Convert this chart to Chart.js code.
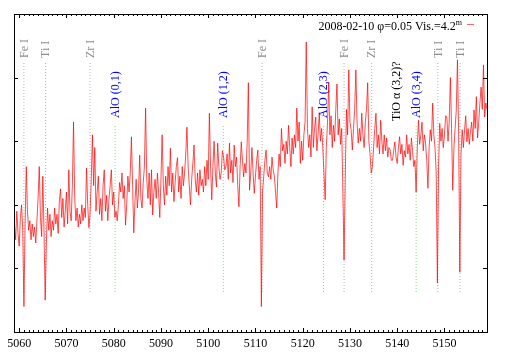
<!DOCTYPE html>
<html>
<head>
<meta charset="utf-8">
<script src="https://cdn.jsdelivr.net/npm/chart.js@4"></script>
<style>
html,body{margin:0;padding:0;background:#fff;}
canvas{display:block;}
</style>
</head>
<body>
<canvas id="c" width="509" height="356"></canvas>
<script>
// ---- data ----
const WL_START = 5059.0;   // first sample wavelength (Å)
const WL_STEP = 0.25;      // sampling step (Å)
const flux = [
 1.7,1.45,1.9,1.55,1.35,1.8,2.0,1.6,0.4,1.7,2.6,1.9,1.6,1.75,1.45,1.7,1.5,1.65,1.4,1.75,
 2.1,2.6,1.8,1.5,2.45,1.6,0.5,1.4,1.95,1.6,1.85,1.5,1.75,1.6,1.95,1.7,1.85,1.55,2.05,2.25,
 1.8,2.1,1.65,1.9,2.2,1.7,2.55,1.9,1.75,2.3,3.3,2.1,1.75,1.95,1.65,1.85,1.7,2.0,1.75,1.95,
 1.8,2.58,2.0,1.64,1.85,2.4,3.1,2.3,2.9,1.9,2.2,2.45,1.85,2.1,1.75,2.3,2.55,1.9,2.15,1.75,
 2.1,2.3,2.55,2.0,2.2,1.8,1.9,1.75,2.0,2.35,2.2,2.5,2.1,2.3,1.68,2.0,2.45,2.2,2.5,3.07,
 2.3,1.56,2.05,2.4,1.95,2.2,2.78,2.1,1.95,2.35,2.6,3.52,2.4,2.1,2.5,2.0,2.55,1.84,2.2,2.4,
 2.1,2.5,2.2,1.8,2.4,3.1,2.3,2.0,2.45,2.15,2.6,2.3,2.89,2.2,2.5,2.05,2.35,2.6,2.74,2.2,
 2.45,2.1,2.6,2.3,2.5,2.8,3.22,2.6,2.3,2.0,2.4,2.65,2.94,2.4,2.2,2.5,2.15,2.55,2.3,2.4,
 2.2,2.6,2.3,2.7,2.4,3.44,2.6,2.08,2.6,3.0,2.5,2.28,2.97,2.6,2.4,2.5,2.85,2.75,2.55,2.6,
 2.8,2.4,2.97,2.5,2.7,2.35,2.94,2.6,2.75,2.3,1.97,2.6,2.99,2.7,2.44,2.65,2.5,3.0,3.92,2.23,
 2.5,2.9,2.5,2.18,2.45,2.7,2.86,2.4,2.6,0.4,2.2,2.45,2.7,2.86,2.5,2.44,2.6,2.4,2.75,2.55,
 2.45,2.2,1.95,2.5,2.8,2.6,3.2,2.85,2.95,2.65,3.0,2.8,3.25,2.9,2.6,3.05,2.8,3.1,2.9,3.52,
 3.0,3.3,2.65,3.0,2.7,3.1,3.3,4.56,3.2,2.9,3.1,2.75,3.54,2.9,3.2,3.38,2.85,3.1,3.45,3.0,
 3.2,2.9,2.5,2.08,2.9,3.3,3.93,3.1,3.4,2.9,3.25,3.0,3.5,3.9,3.1,3.35,2.95,3.2,2.2,1.13,
 2.4,3.5,3.1,4.12,3.3,3.18,2.86,3.2,3.5,4.12,3.3,2.97,3.2,3.0,3.44,3.1,2.9,3.3,3.5,3.92,
 3.0,2.8,2.5,2.6,2.9,3.2,3.44,2.9,3.1,2.8,3.33,3.0,2.8,3.1,2.85,3.05,2.75,2.9,2.86,2.7,
 2.7,2.85,2.99,2.75,2.65,2.9,3.07,2.8,2.95,2.62,2.85,2.75,3.1,2.8,2.95,2.7,3.05,2.85,2.6,2.7,
 2.2,2.9,3.33,2.95,3.1,3.3,2.85,3.1,2.97,2.7,2.26,2.9,3.18,3.0,3.6,3.1,2.9,2.5,0.77,2.6,
 3.28,3.0,3.2,2.9,3.1,3.4,3.38,3.0,3.3,4.0,3.2,2.23,2.9,3.2,3.49,4.28,3.1,0.94,2.8,3.18,
 2.9,3.18,3.4,2.99,3.2,2.95,3.15,3.3,3.0,3.49,3.2,3.7,3.05,3.3,3.6,3.85,3.5,4.2,3.38,3.6,
 3.5
];
const markerWl    = [5061.0, 5065.6, 5075.0, 5080.3, 5103.2, 5111.4, 5124.4, 5128.75, 5134.6, 5139.9, 5144.0, 5148.6, 5153.3];
const markerLabel = ['Fe I','Ti I','Zr I','AlO (0,1)','AlO (1,2)','Fe I','AlO (2,3)','Fe I','Zr I','TiO \u03b1 (3,2)?','AlO (3,4)','Ti I','Ti I'];
const markerKind  = ['atom','atom','atom','AlO','AlO','atom','AlO','atom','atom','TiO','AlO','atom','atom'];
const xTickLabels = [5060,5070,5080,5090,5100,5110,5120,5130,5140,5150];
const yTickValues = [1,2,3,4];
const legendText = '2008-02-10 \u03c6=0.05 Vis.=4.2';
const legendSup = 'm';

// ---- styles ----
const X_MIN = 5058.9, X_MAX = 5159.0, Y_MIN = 0, Y_MAX = 5;
const kindStyle = {
  atom: {line:'#b0b0b0', text:'#8c8c8c', top:4.23, gap:5},
  AlO:  {line:'#77dd77', text:'#0000ff', top:3.24, gap:8},
  TiO:  {line:null,      text:'#000000', top:3.24, gap:5}
};
const LINE_BOTTOM = 0.61;
const SERIF = '"Liberation Serif", "DejaVu Serif", serif';

const datasets = [{
  data: flux.map((v,i)=>({x: WL_START + i*WL_STEP, y: v})),
  borderColor: 'rgba(255,0,0,0.7)',
  borderWidth: 1,
  pointRadius: 0,
  tension: 0,
  order: 0
}];
markerWl.forEach((w,i)=>{
  const st = kindStyle[markerKind[i]];
  if (!st.line) return;
  datasets.push({
    data: [{x:w, y:st.top},{x:w, y:LINE_BOTTOM}],
    borderColor: st.line,
    borderWidth: 1,
    borderDash: [1,2],
    pointRadius: 0,
    order: 1
  });
});

const decor = {
  id: 'decor',
  afterDatasetsDraw(chart){
    const ctx = chart.ctx, a = chart.chartArea;
    const xs = chart.scales.x, ys = chart.scales.y;
    ctx.save();
    // frame
    ctx.strokeStyle = '#000';
    ctx.lineWidth = 1;
    ctx.strokeRect(Math.round(a.left)+0.5, Math.round(a.top)+0.5, Math.round(a.right-a.left), Math.round(a.bottom-a.top));
    // x ticks (inward, top & bottom)
    ctx.beginPath();
    for (let v = Math.ceil(X_MIN); v <= X_MAX; v++) {
      const major = xTickLabels.includes(v);
      const len = major ? 4 : 2;
      const px = Math.round(xs.getPixelForValue(v)) + 0.5;
      ctx.moveTo(px, a.bottom); ctx.lineTo(px, a.bottom - len);
      ctx.moveTo(px, a.top); ctx.lineTo(px, a.top + len);
    }
    // y ticks (inward, left & right)
    yTickValues.forEach(v=>{
      const py = Math.round(ys.getPixelForValue(v)) + 0.5;
      ctx.moveTo(a.left, py); ctx.lineTo(a.left + 4, py);
      ctx.moveTo(a.right, py); ctx.lineTo(a.right - 4, py);
    });
    ctx.stroke();
    // marker labels
    ctx.font = '12px ' + SERIF;
    ctx.textAlign = 'left';
    ctx.textBaseline = 'middle';
    markerWl.forEach((w,i)=>{
      const st = kindStyle[markerKind[i]];
      const px = xs.getPixelForValue(w);
      const py = ys.getPixelForValue(st.top) - st.gap;
      ctx.save();
      ctx.translate(px, py);
      ctx.rotate(-Math.PI/2);
      ctx.fillStyle = st.text;
      ctx.fillText(markerLabel[i], 0, 0.5);
      ctx.restore();
    });
    // legend
    ctx.font = '8px ' + SERIF;
    const supW = ctx.measureText(legendSup).width;
    const right = 462;
    ctx.textBaseline = 'alphabetic';
    ctx.textAlign = 'left';
    ctx.fillStyle = '#000';
    ctx.fillText(legendSup, right - supW, 25);
    ctx.font = '12px ' + SERIF;
    ctx.textAlign = 'right';
    ctx.fillText(legendText, right - supW, 30);
    ctx.strokeStyle = 'rgba(255,0,0,0.6)';
    ctx.beginPath();
    ctx.moveTo(467, 24.5); ctx.lineTo(474, 24.5);
    ctx.stroke();
    ctx.restore();
  }
};

new Chart(document.getElementById('c'), {
  type: 'line',
  data: { datasets },
  options: {
    responsive: false,
    animation: false,
    devicePixelRatio: 1,
    layout: { padding: { left: 14, top: 14, right: 22, bottom: 0 } },
    plugins: { legend: {display:false}, tooltip: {enabled:false} },
    scales: {
      x: {
        type: 'linear', min: X_MIN, max: X_MAX,
        grid: { display: false, drawTicks: false },
        border: { display: false },
        afterBuildTicks: s => { s.ticks = xTickLabels.map(v=>({value:v})); },
        afterFit: s => { s.height = 24; },
        ticks: { padding: 5, color: '#000', font: { family: SERIF, size: 12 }, maxRotation: 0, autoSkip: false,
                 callback: v => String(v) }
      },
      y: {
        type: 'linear', min: Y_MIN, max: Y_MAX, display: false
      }
    }
  },
  plugins: [decor]
});
</script>
</body>
</html>
